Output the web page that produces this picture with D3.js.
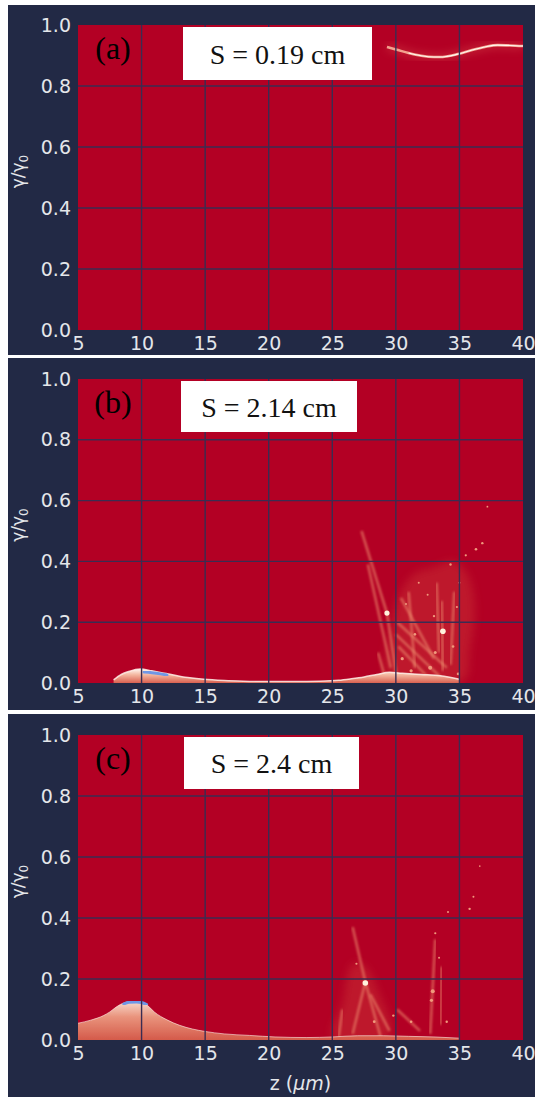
<!DOCTYPE html>
<html><head><meta charset="utf-8">
<script src="https://cdn.jsdelivr.net/npm/d3@7"></script>
<style>html,body{margin:0;padding:0;background:#fff;}svg{display:block;}</style>
</head><body>
<script>
// ---------- data ----------
const xTicks = [5, 10, 15, 20, 25, 30, 35, 40];
const yTicks = [0.0, 0.2, 0.4, 0.6, 0.8, 1.0];
const panelTags = ["(a)", "(b)", "(c)"];
const sLabels = ["S = 0.19 cm", "S = 2.14 cm", "S = 2.4 cm"];

// panel (a): thin beam curve
const aZ = [29.3, 30.0, 31.0, 32.0, 33.0, 33.5, 34.0, 35.0, 36.0, 37.0, 38.0, 39.0, 40.0];
const aG = [0.928, 0.920, 0.908, 0.899, 0.895, 0.895, 0.897, 0.906, 0.918, 0.928, 0.934, 0.933, 0.931];

// panel (b): low-energy band upper envelope
const bBandZ = [7.8, 8.4, 9.0, 9.9, 10.8, 11.8, 12.8, 13.8, 14.9, 16.5, 18.0, 20.0, 22.0, 24.0, 25.5, 26.5, 27.5, 28.5, 29.5, 30.5, 32.0, 33.5, 35.0];
const bBandG = [0.010, 0.028, 0.038, 0.046, 0.040, 0.032, 0.024, 0.017, 0.012, 0.008, 0.006, 0.005, 0.005, 0.006, 0.009, 0.014, 0.020, 0.028, 0.035, 0.032, 0.028, 0.024, 0.012];
const bBlueZ = [10.2, 10.8, 11.5, 12.0];
const bBlueG = [0.036, 0.034, 0.030, 0.026];
// panel (b): plume haze outline
const bHazeZ = [29.4, 29.7, 30.4, 31.5, 33.0, 34.5, 35.6, 36.2, 35.8, 35.4];
const bHazeG = [0.02, 0.20, 0.30, 0.36, 0.38, 0.40, 0.36, 0.25, 0.10, 0.01];
// panel (b): streaks [z0, g0, z1, g1]
const bStreaks = [
  [27.3, 0.50, 29.3, 0.23], [29.3, 0.23, 30.1, 0.01], [27.8, 0.39, 29.6, 0.05],
  [30.1, 0.20, 34.0, 0.05], [30.4, 0.28, 33.0, 0.08], [30.2, 0.12, 32.5, 0.02],
  [33.6, 0.27, 33.7, 0.04], [33.2, 0.33, 33.4, 0.10], [34.6, 0.30, 34.3, 0.06],
  [31.0, 0.30, 31.5, 0.05], [28.6, 0.10, 29.2, 0.01], [30.0, 0.16, 33.5, 0.02]
];
// panel (b): bright spots / specks [z, g, r]
const bSpots = [
  [29.3, 0.23, 2.6], [33.7, 0.17, 2.8], [32.7, 0.05, 2.0], [36.3, 0.44, 1.3], [36.8, 0.46, 1.2],
  [37.2, 0.58, 0.9], [34.3, 0.39, 1.2], [35.5, 0.42, 1.1], [31.8, 0.33, 1.0], [32.5, 0.29, 1.0],
  [34.8, 0.25, 1.1], [30.8, 0.26, 1.0], [33.0, 0.22, 1.2], [35.0, 0.33, 1.0], [31.5, 0.16, 1.3],
  [30.5, 0.08, 1.6], [34.5, 0.12, 1.3], [33.1, 0.10, 1.5], [31.2, 0.04, 1.6], [34.9, 0.03, 1.4]
];

// panel (c): low-energy hump upper envelope
const cHumpZ = [5.0, 6.0, 7.0, 7.5, 8.0, 8.5, 9.0, 9.5, 10.0, 10.5, 11.0, 12.0, 13.0, 14.0, 15.0, 16.5, 18.5, 20.5, 23.0, 25.0, 27.0, 29.0, 31.0, 33.0, 35.0];
const cHumpG = [0.055, 0.065, 0.080, 0.092, 0.108, 0.120, 0.125, 0.126, 0.124, 0.112, 0.092, 0.066, 0.048, 0.036, 0.028, 0.020, 0.015, 0.010, 0.008, 0.010, 0.014, 0.014, 0.012, 0.010, 0.006];
const cBlueZ = [8.6, 9.0, 9.6, 10.0, 10.4];
const cBlueG = [0.118, 0.124, 0.125, 0.123, 0.116];
const cHazeZ = [25.0, 25.8, 26.6, 27.6, 28.8, 29.6, 29.5];
const cHazeG = [0.01, 0.12, 0.25, 0.24, 0.14, 0.05, 0.01];
const cStreaks = [
  [26.6, 0.37, 27.6, 0.19], [27.6, 0.19, 28.8, 0.01], [27.6, 0.19, 26.6, 0.02],
  [33.1, 0.33, 32.7, 0.02], [30.1, 0.10, 31.9, 0.03], [28.0, 0.15, 29.5, 0.03],
  [33.6, 0.24, 33.5, 0.05], [25.8, 0.10, 25.5, 0.01]
];
const cSpots = [
  [27.6, 0.187, 2.8], [32.9, 0.16, 2.0], [32.8, 0.13, 1.6], [35.8, 0.43, 1.2], [36.1, 0.47, 1.0],
  [36.6, 0.57, 0.8], [34.1, 0.42, 1.0], [33.1, 0.35, 1.1], [33.4, 0.27, 1.0], [31.2, 0.06, 1.3],
  [29.8, 0.08, 1.2], [34.0, 0.06, 1.2], [28.3, 0.06, 1.4], [26.9, 0.25, 1.1]
];

// ---------- layout ----------
const W = 535, H = 1097;
const panels = [
  {bg: [8, 5, 527, 350], plot: [78, 25, 445, 305], box: [183, 27, 189, 53]},
  {bg: [8, 358, 527, 352], plot: [78, 379, 445, 304], box: [181, 381, 176, 51]},
  {bg: [8, 714, 527, 383], plot: [78, 735, 445, 305], box: [184, 737, 175, 52]}
];
const NAVY = "#222945", RED = "#b30024", GRID = "#3a2c52", TXT = "#e4e6ea";

const svg = d3.select("body").append("svg").attr("width", W).attr("height", H);
const defs = svg.append("defs");
defs.append("filter").attr("id", "soft").append("feGaussianBlur").attr("stdDeviation", 0.7);
defs.append("filter").attr("id", "soft2").append("feGaussianBlur").attr("stdDeviation", 1.1);
defs.append("filter").attr("id", "haze").attr("x", "-30%").attr("y", "-30%").attr("width", "160%").attr("height", "160%")
  .append("feGaussianBlur").attr("stdDeviation", 4);
const gb = defs.append("linearGradient").attr("id", "bandB").attr("x1", 0).attr("y1", 0).attr("x2", 0).attr("y2", 1);
gb.append("stop").attr("offset", "0%").attr("stop-color", "#fff6f0");
gb.append("stop").attr("offset", "40%").attr("stop-color", "#f4b9a2");
gb.append("stop").attr("offset", "100%").attr("stop-color", "#d9604f");
const gc = defs.append("linearGradient").attr("id", "bandC").attr("x1", 0).attr("y1", 0).attr("x2", 0).attr("y2", 1);
gc.append("stop").attr("offset", "0%").attr("stop-color", "#f8d8cb");
gc.append("stop").attr("offset", "40%").attr("stop-color", "#e9937c");
gc.append("stop").attr("offset", "100%").attr("stop-color", "#d45a4a");

panels.forEach((p, i) => {
  const [px, py, pw, ph] = p.plot;
  svg.append("rect").attr("x", p.bg[0]).attr("y", p.bg[1]).attr("width", p.bg[2]).attr("height", p.bg[3]).attr("fill", NAVY);
  const x = d3.scaleLinear().domain([5, 40]).range([px, px + pw]);
  const y = d3.scaleLinear().domain([0, 1]).range([py + ph, py]);
  const clipId = "clip" + i;
  defs.append("clipPath").attr("id", clipId).append("rect").attr("x", px).attr("y", py).attr("width", pw).attr("height", ph);
  svg.append("rect").attr("x", px).attr("y", py).attr("width", pw).attr("height", ph).attr("fill", RED);
  const g = svg.append("g").attr("clip-path", `url(#${clipId})`);

  const line = d3.line().x(d => x(d[0])).y(d => y(d[1])).curve(d3.curveMonotoneX);
  const area = d3.area().x(d => x(d[0])).y0(y(0)).y1(d => y(d[1])).curve(d3.curveMonotoneX);
  const closed = d3.line().x(d => x(d[0])).y(d => y(d[1])).curve(d3.curveCatmullRomClosed);

  if (i === 0) {
    const pts = aZ.map((z, k) => [z, aG[k]]);
    g.append("path").attr("d", line(pts)).attr("fill", "none").attr("stroke", "#e86a5c").attr("stroke-width", 6).attr("opacity", 0.35).attr("filter", "url(#haze)");
    g.append("path").attr("d", line(pts)).attr("fill", "none").attr("stroke", "#f3a28e").attr("stroke-width", 2.6).attr("filter", "url(#soft)");
    g.append("path").attr("d", line(pts.slice(2))).attr("fill", "none").attr("stroke", "#fff8f2").attr("stroke-width", 1.1);
  }
  if (i === 1 || i === 2) {
    const hz = i === 1 ? bHazeZ : cHazeZ, hg = i === 1 ? bHazeG : cHazeG;
    g.append("path").attr("d", closed(hz.map((z, k) => [z, hg[k]])))
      .attr("fill", "#cf3d38").attr("opacity", 0.4).attr("filter", "url(#haze)");
    const st = i === 1 ? bStreaks : cStreaks;
    g.selectAll(null).data(st).enter().append("line")
      .attr("x1", d => x(d[0])).attr("y1", d => y(d[1])).attr("x2", d => x(d[2])).attr("y2", d => y(d[3]))
      .attr("stroke", "#ec8a6c").attr("stroke-width", 2.6).attr("opacity", 0.6).attr("filter", "url(#soft2)");
    const bz = i === 1 ? bBandZ : cHumpZ, bgv = i === 1 ? bBandG : cHumpG;
    const bp = bz.map((z, k) => [z, bgv[k]]);
    g.append("path").attr("d", area(bp)).attr("fill", i === 1 ? "url(#bandB)" : "url(#bandC)").attr("filter", "url(#soft)");
    g.append("path").attr("d", line(bp)).attr("fill", "none").attr("stroke", "#fff0e8").attr("stroke-width", i === 1 ? 1.5 : 1.0).attr("opacity", i === 1 ? 0.85 : 0.6);
    const blz = i === 1 ? bBlueZ : cBlueZ, blg = i === 1 ? bBlueG : cBlueG;
    g.append("path").attr("d", line(blz.map((z, k) => [z, blg[k]]))).attr("fill", "none")
      .attr("stroke", "#6f97e6").attr("stroke-width", 3).attr("stroke-linecap", "round").attr("filter", "url(#soft)");
    const sp = i === 1 ? bSpots : cSpots;
    g.selectAll(null).data(sp).enter().append("circle")
      .attr("cx", d => x(d[0])).attr("cy", d => y(d[1])).attr("r", d => d[2])
      .attr("fill", d => d[2] > 2 ? "#fff2dc" : "#f09a7c").attr("filter", "url(#soft)");
  }

  // grid
  svg.append("g").selectAll(null).data(xTicks.slice(1, -1)).enter().append("line")
    .attr("x1", d => x(d)).attr("x2", d => x(d)).attr("y1", py).attr("y2", py + ph)
    .attr("stroke", GRID).attr("stroke-width", 1.4);
  svg.append("g").selectAll(null).data(yTicks.slice(1, -1)).enter().append("line")
    .attr("y1", d => y(d)).attr("y2", d => y(d)).attr("x1", px).attr("x2", px + pw)
    .attr("stroke", GRID).attr("stroke-width", 1.4);

  // axes via d3
  const xa = svg.append("g").attr("transform", `translate(0,${py + ph})`)
    .call(d3.axisBottom(x).tickValues(xTicks).tickFormat(d3.format("d")).tickSize(0).tickPadding(7));
  const ya = svg.append("g").attr("transform", `translate(${px},0)`)
    .call(d3.axisLeft(y).tickValues(yTicks).tickFormat(d3.format(".1f")).tickSize(0).tickPadding(7));
  [xa, ya].forEach(a => {
    a.select(".domain").remove();
    a.selectAll("text").attr("fill", TXT).attr("font-family", "DejaVu Sans, sans-serif").attr("font-size", 19);
  });

  // y label
  const yl = svg.append("text").attr("transform", `translate(24,${py + ph / 2 - 6}) rotate(-90)`)
    .attr("text-anchor", "middle").attr("fill", TXT).attr("font-family", "DejaVu Sans, sans-serif").attr("font-size", 17);
  yl.append("tspan").text("γ/γ");
  yl.append("tspan").attr("font-size", 12).attr("dy", 4).text("0");

  // tag and S box
  svg.append("text").attr("x", 113).attr("y", py + 34).attr("text-anchor", "middle")
    .attr("font-family", "Liberation Serif, Times New Roman, serif").attr("font-size", 32).attr("fill", "#000").text(panelTags[i]);
  svg.append("rect").attr("x", p.box[0]).attr("y", p.box[1]).attr("width", p.box[2]).attr("height", p.box[3]).attr("fill", "#fff");
  svg.append("text").attr("x", p.box[0] + p.box[2] / 2).attr("y", p.box[1] + p.box[3] / 2 + 10).attr("text-anchor", "middle")
    .attr("font-family", "Liberation Serif, Times New Roman, serif").attr("font-size", 28).attr("fill", "#111").text(sLabels[i]);
});

// x label
const p3 = panels[2].plot;
const xl = svg.append("text").attr("x", p3[0] + p3[2] / 2).attr("y", 1090).attr("text-anchor", "middle")
  .attr("fill", TXT).attr("font-family", "DejaVu Sans, sans-serif").attr("font-size", 19);
xl.append("tspan").text("z (");
xl.append("tspan").attr("font-style", "italic").text("μm");
xl.append("tspan").text(")");
</script>
</body></html>
